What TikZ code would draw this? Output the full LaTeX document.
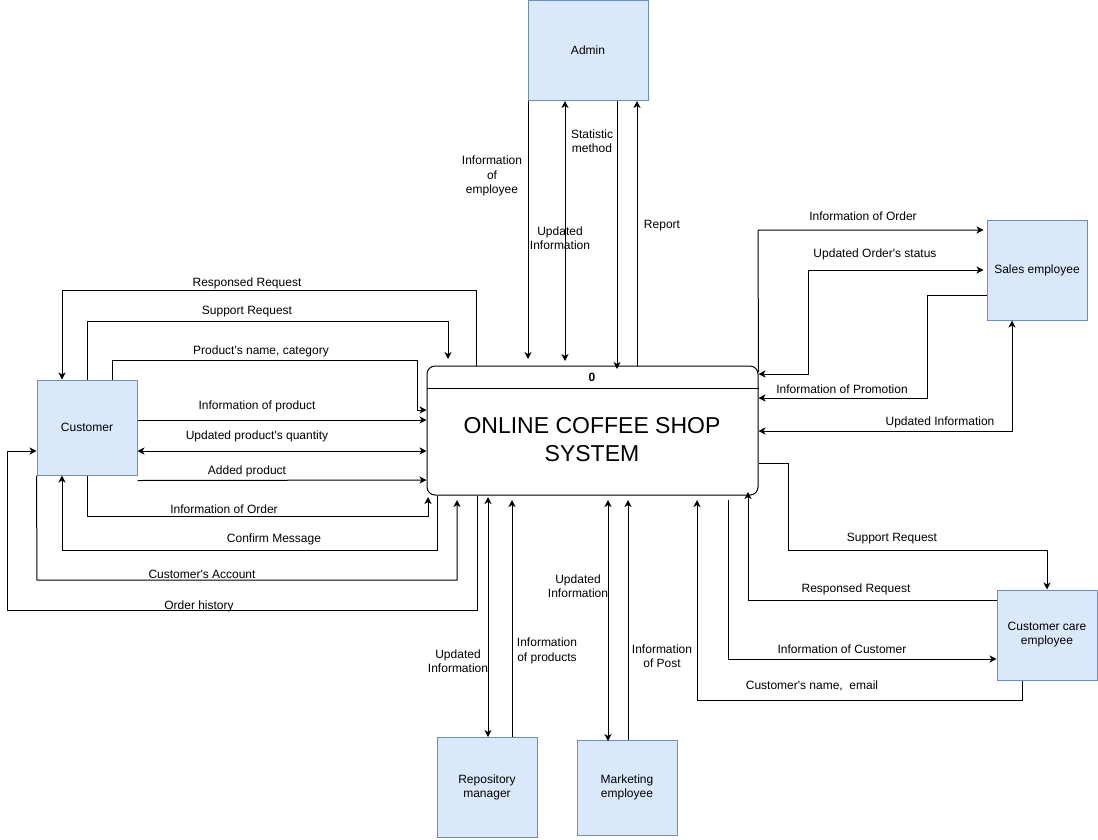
\documentclass[tikz,border=0pt]{standalone}
\usepackage{fontspec}
\setmainfont{Liberation Sans}
\usetikzlibrary{arrows.meta}
\definecolor{entfill}{HTML}{DAE8FC}
\definecolor{entline}{HTML}{6C8EBF}
\newcommand{\apo}{\textquotesingle}
\begin{document}
\begin{tikzpicture}[x=1pt,y=-1pt,
  ent/.style={draw=entline, fill=entfill, line width=1pt, inner sep=0pt,
    font=\fontsize{12}{14}\selectfont, align=center},
  lbl/.style={font=\fontsize{12}{14.5}\selectfont, align=center, inner sep=1pt},
  tip/.tip={Stealth[length=7pt,width=7pt,inset=2pt]},
  flow/.style={line width=1pt, -tip},
  both/.style={line width=1pt, tip-tip}]
\useasboundingbox (0,0) rectangle (1098,839);

% entities
\node[ent, minimum width=100pt, minimum height=95pt] (Customer) at (87,427.5) {Customer};
\node[ent, minimum width=120pt, minimum height=100pt] (Admin) at (588,50.5) {Admin};
\node[ent, minimum width=100pt, minimum height=100pt] (Sales) at (1037,270) {Sales employee};
\node[ent, minimum width=100pt, minimum height=90pt] (Care) at (1047,635) {Customer care\\employee};
\node[ent, minimum width=100pt, minimum height=100pt] (Repo) at (487,787.5) {Repository\\manager};
\node[ent, minimum width=100pt, minimum height=95pt] (Market) at (627,787.5) {Marketing\\employee};

% process
\node[draw=black, fill=white, line width=1pt, rounded corners=8pt,
  minimum width=331pt, minimum height=129pt, inner sep=0pt] (Main) at (592.5,430.5) {};
\draw[line width=1pt] (Main.west |- 0,388) -- (Main.east |- 0,388);
\node[font=\bfseries\fontsize{12}{14}\selectfont] (num) at (592,377) {0};
\node[font=\fontsize{23}{28}\selectfont, align=center] (title) at (592,440) {ONLINE COFFEE SHOP\\SYSTEM};

% customer flows
\draw[flow] (Main.north -| 476,0) -- (476,290) -- (62,290) -- (Customer.north -| 62,0);
\draw[flow] (Customer.north -| 87,0) -- (87,321) -- (448,321) -- (448,359);
\draw[flow] (Customer.north -| 112,0) -- (112,360) -- (417,360) -- (417,410) -- (Main.west |- 0,410);
\draw[flow] (Customer.east |- 0,420) -- (Main.west |- 0,420);
\draw[both] (Customer.east |- 0,451) -- (Main.west |- 0,451);
\draw[flow] ([yshift=-5pt]Customer.south east) -- (Main.west |- 0,480);
\draw[flow] (Customer.south) -- (87,516) -- (428,516) -- (428,497);
\draw[flow] (Main.south -| 437,0) -- (437,550) -- (62,550) -- (Customer.south -| 62,0);
\draw[flow] (Customer.south west) -- (37,580) -- (457,580) -- (457,500);
\draw[flow] (Main.south -| 477,0) -- (477,610) -- (7,610) -- (7,451) -- (Customer.west |- 0,451);

\node[lbl] (l1) at (247,283) {Responsed Request};
\node[lbl] (l2) at (247,312) {Support Request};
\node[lbl] (l3) at (261,351) {Product\apo s name, category};
\node[lbl] (l4) at (257,406) {Information of product};
\node[lbl] (l5) at (257,436) {Updated product\apo s quantity};
\node[lbl] (l6) at (247,471) {Added product};
\node[lbl] (l7) at (224,509) {Information of Order};
\node[lbl] (l8) at (274,539) {Confirm Message};
\node[lbl] (l9) at (202,574) {Customer\apo s Account};
\node[lbl] (l10) at (199,606) {Order history};

% admin flows
\draw[flow] (Admin.south -| 528,0) -- (528,359);
\draw[both] (Admin.south -| 565,0) -- (565,361);
\draw[flow] (Admin.south -| 617,0) -- (617,369);
\draw[flow] (Main.north -| 637,0) -- (Admin.south -| 637,0);

\node[lbl] (a1) at (492,176) {Information\\of\\employee};
\node[lbl] (a2) at (560,238) {Updated\\Information};
\node[lbl] (a3) at (592,141) {Statistic\\method};
\node[lbl] (a4) at (662,226) {Report};

% sales flows
\draw[flow] (Main.east |- 0,372) -- (758,230) -- ([xshift=-3pt]Sales.west |- 0,230);
\draw[both] ([xshift=-3pt]Sales.west |- 0,270) -- (808,270) -- (808,374) -- (Main.east |- 0,374);
\draw[flow] (Sales.west |- 0,295) -- (927,295) -- (927,398) -- (Main.east |- 0,398);
\draw[both] (Main.east |- 0,431) -- (1012,431) -- (Sales.south -| 1012,0);

\node[lbl] (s1) at (863,216) {Information of Order};
\node[lbl] (s2) at (875,254) {Updated Order\apo s status};
\node[lbl] (s3) at (842,389) {Information of Promotion};
\node[lbl] (s4) at (940,422) {Updated Information};

% customer care flows
\draw[flow] (Main.east |- 0,463) -- (788,463) -- (788,550) -- (1047,550) -- (Care.north);
\draw[flow] (Care.west |- 0,600) -- (748,600) -- (748,492);
\draw[flow] (728,500) -- (728,659) -- (Care.west |- 0,659);
\draw[flow] (Care.south -| 1022,0) -- (1022,700) -- (697,700) -- (697,500);

\node[lbl] (c1) at (892,539) {Support Request};
\node[lbl] (c2) at (856,589) {Responsed Request};
\node[lbl] (c3) at (842,649) {Information of Customer};
\node[lbl] (c4) at (812,686) {Customer\apo s name,\ \ email};

% bottom flows
\draw[both] (488,497) -- (Repo.north -| 488,0);
\draw[flow] (Repo.north -| 512,0) -- (512,500);
\draw[both] (608,500) -- (608,741);
\draw[flow] (Market.north -| 628,0) -- (628,500);

\node[lbl] (b1) at (458,661) {Updated\\Information};
\node[lbl] (b2) at (547,651) {Information\\of products};
\node[lbl] (b3) at (578,586) {Updated\\Information};
\node[lbl] (b4) at (662,656) {Information\\of Post};
\end{tikzpicture}
\end{document}
